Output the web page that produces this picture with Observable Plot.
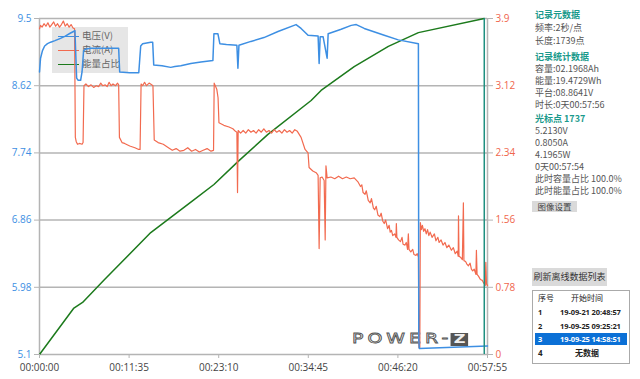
<!DOCTYPE html>
<html><head><meta charset="utf-8">
<script src="https://cdn.jsdelivr.net/npm/d3@7"></script>
<script src="https://cdn.jsdelivr.net/npm/@observablehq/plot@0.6"></script>
<style>
body{margin:0;background:#fff;font-family:"Open Sans","Noto Sans CJK SC",sans-serif;}
#wrap{position:relative;width:640px;height:379px;overflow:hidden;background:#fff;}
#chart{position:absolute;left:0;top:0;z-index:1;}
#legend{position:absolute;left:52px;top:27px;width:76px;height:46px;background:#e6e6e6;z-index:0;}
.lg{position:absolute;left:6px;height:12px;font-size:9.5px;line-height:12px;color:#666;white-space:nowrap;font-family:"Noto Sans CJK SC",sans-serif;}
.lg i{display:inline-block;width:21px;height:0;border-top:1.5px solid;vertical-align:middle;margin-right:3px;}
.pl{position:absolute;left:535px;font-size:9px;line-height:11px;height:11px;color:#555;white-space:nowrap;font-family:"Noto Sans CJK SC",sans-serif;}
.hd{color:#1a9a8c;font-weight:bold;}
.btn{position:absolute;background:#dadada;color:#444;font-size:8.5px;text-align:center;white-space:nowrap;font-family:"Noto Sans CJK SC",sans-serif;}
#tbl{position:absolute;left:532px;top:290px;width:96px;height:72px;border:1px solid #aaa;background:#fff;font-family:"Open Sans","Noto Sans CJK SC",sans-serif;font-size:7.5px;color:#222;}
.row{position:absolute;left:2px;width:92px;height:12px;line-height:12px;white-space:nowrap;}
.row .n{position:absolute;left:3px;font-weight:bold;}
.row .d{position:absolute;left:25px;font-weight:bold;letter-spacing:-0.1px;}
#wm{position:absolute;left:352px;top:330px;z-index:0;font-family:"DejaVu Sans",sans-serif;font-size:14px;line-height:16px;letter-spacing:3px;color:#fff;-webkit-text-stroke:0.8px #555;white-space:nowrap;transform:scaleX(1.35);transform-origin:left center;}
#wm b{display:inline-block;background:#555;color:#eee;-webkit-text-stroke:0;letter-spacing:0;padding:0 2px;font-size:12px;line-height:13px;margin-left:-1px;}
</style></head>
<body>
<div id="wrap">
  <div id="legend">
    <div class="lg" style="top:2px"><i style="border-color:#3d8fe3"></i>电压(V)</div>
    <div class="lg" style="top:16px"><i style="border-color:#f26a4f"></i>电流(A)</div>
    <div class="lg" style="top:30px"><i style="border-color:#1c7a1c"></i>能量占比</div>
  </div>
  <div id="wm">POWER-<b>Z</b></div>
  <div id="chart"></div>
  <div class="pl hd" style="top:9px">记录元数据</div>
  <div class="pl" style="top:22px">频率:2秒/点</div>
  <div class="pl" style="top:35px">长度:1739点</div>
  <div class="pl hd" style="top:51px">记录统计数据</div>
  <div class="pl" style="top:63px">容量:02.1968Ah</div>
  <div class="pl" style="top:75px">能量:19.4729Wh</div>
  <div class="pl" style="top:87px">平台:08.8641V</div>
  <div class="pl" style="top:99px">时长:0天00:57:56</div>
  <div class="pl hd" style="top:113px">光标点 1737</div>
  <div class="pl" style="top:125px">5.2130V</div>
  <div class="pl" style="top:137px">0.8050A</div>
  <div class="pl" style="top:149px">4.1965W</div>
  <div class="pl" style="top:161px">0天00:57:54</div>
  <div class="pl" style="top:173px">此时容量占比 100.0%</div>
  <div class="pl" style="top:185px">此时能量占比 100.0%</div>
  <div class="btn" style="left:532px;top:201px;width:45px;height:11px;line-height:11px;">图像设置</div>
  <div class="btn" style="left:532px;top:268px;width:75px;height:18px;line-height:18px;font-size:9px;color:#333">刷新离线数据列表</div>
  <div id="tbl">
    <div class="row" style="top:1px;font-size:8px"><span class="n" style="font-weight:normal">序号</span><span style="position:absolute;left:36px">开始时间</span></div>
    <div class="row" style="top:15px"><span class="n">1</span><span class="d">19-09-21 20:48:57</span></div>
    <div class="row" style="top:29px"><span class="n">2</span><span class="d">19-09-25 09:25:21</span></div>
    <div class="row" style="top:42px;background:#0b70d6;color:#fff"><span class="n">3</span><span class="d">19-09-25 14:58:51</span></div>
    <div class="row" style="top:56px;font-size:8px"><span class="n">4</span><span style="position:absolute;left:40px;font-weight:bold">无数据</span></div>
  </div>
</div>
<script>
// axis ticks
const leftTicks = [9.5, 8.62, 7.74, 6.86, 5.98, 5.1];
const rightTickLabels = ["3.9", "3.12", "2.34", "1.56", "0.78", "0"];
const xTickSec = [0, 695, 1390, 2085, 2780, 3475];
const xTickLabels = ["00:00:00", "00:11:35", "00:23:10", "00:34:45", "00:46:20", "00:57:55"];
const cursorSec = [3450];

// voltage (V) series
const voltT = [0,8,23,40,62,86,120,163,200,241,264,275,282,288,300,319,330,342,358,400,500,560,614,622,700,770,785,800,863,878,886,950,1018,1050,1096,1174,1252,1345,1353,1384,1399,1450,1531,1539,1547,1640,1741,1850,1990,2029,2083,2161,2169,2177,2200,2231,2239,2340,2418,2457,2519,2674,2783,2939,2942,2946,3475];
const voltV = [8.80,8.98,9.08,9.14,9.17,9.19,9.21,9.24,9.27,9.31,9.33,9.34,9.00,8.72,8.69,8.69,8.80,9.08,9.10,9.11,9.11,9.11,9.11,8.80,8.79,8.79,9.14,9.17,9.19,9.19,8.89,8.88,8.86,8.87,8.88,8.91,8.93,8.95,9.30,9.30,9.17,9.16,9.15,8.85,9.15,9.20,9.25,9.33,9.42,9.37,9.28,9.27,8.91,9.26,9.26,8.98,9.30,9.36,9.41,9.42,9.37,9.28,9.22,9.17,5.30,5.18,5.21];

// current (A) series
const currT = [0,8,20,35,50,65,80,95,110,125,140,155,170,185,200,215,230,245,260,272,278,285,295,310,330,338,345,360,380,400,420,440,460,475,490,510,525,540,555,570,590,605,614,620,640,660,700,740,770,780,788,800,815,830,850,870,880,890,920,960,1000,1030,1060,1090,1120,1150,1180,1210,1240,1270,1300,1330,1350,1355,1375,1385,1392,1430,1470,1500,1520,1531,1536,1541,1560,1580,1600,1620,1640,1660,1680,1700,1720,1740,1760,1780,1800,1820,1840,1860,1880,1900,1920,1940,1960,1980,2000,2029,2060,2083,2091,2120,2146,2161,2169,2177,2192,2208,2216,2222,2231,2260,2290,2320,2350,2380,2410,2441,2472,2490,2500,2510,2525,2535,2550,2565,2575,2590,2600,2612,2625,2640,2650,2662,2674,2685,2700,2712,2720,2730,2740,2755,2765,2768,2772,2785,2800,2812,2820,2835,2845,2855,2861,2866,2880,2895,2905,2920,2930,2939,2943,2950,2954,2962,2970,2980,2990,3000,3010,3020,3030,3045,3063,3075,3090,3100,3115,3130,3145,3160,3175,3195,3210,3225,3240,3248,3250,3254,3265,3280,3288,3292,3305,3315,3327,3340,3350,3360,3372,3385,3389,3394,3405,3420,3435,3445,3452,3458,3462,3467,3475];
const currA = [3.78,3.82,3.80,3.84,3.81,3.85,3.80,3.83,3.86,3.81,3.84,3.80,3.83,3.87,3.81,3.84,3.80,3.83,3.79,3.78,2.52,2.47,2.44,2.45,2.44,2.46,3.12,3.14,3.11,3.13,3.10,3.12,3.11,3.15,3.12,3.13,3.11,3.16,3.12,3.14,3.12,3.15,3.13,2.52,2.46,2.45,2.42,2.40,2.38,2.38,3.14,3.12,3.16,3.12,3.15,3.13,3.12,2.49,2.46,2.44,2.40,2.37,2.39,2.36,2.37,2.40,2.36,2.38,2.35,2.37,2.39,2.36,2.37,3.15,3.08,2.98,2.69,2.66,2.64,2.62,2.59,2.58,1.88,2.60,2.57,2.60,2.57,2.61,2.58,2.60,2.57,2.61,2.58,2.62,2.58,2.60,2.57,2.61,2.58,2.60,2.57,2.61,2.58,2.60,2.57,2.61,2.59,2.52,2.38,2.34,2.17,2.13,2.11,2.08,1.23,2.05,2.06,2.02,1.33,2.19,2.05,2.06,2.04,2.07,2.04,2.06,2.04,2.05,2.00,1.95,1.97,1.88,1.86,1.90,1.79,1.76,1.81,1.70,1.68,1.72,1.62,1.60,1.64,1.55,1.52,1.56,1.46,1.50,1.42,1.44,1.38,1.40,1.36,1.52,1.36,1.33,1.31,1.36,1.28,1.27,1.30,1.22,1.40,1.22,1.19,1.22,1.16,1.15,1.17,1.13,0.08,0.08,1.53,1.45,1.50,1.43,1.46,1.40,1.45,1.38,1.42,1.36,1.40,1.32,1.36,1.30,1.33,1.27,1.30,1.24,1.27,1.21,1.24,1.17,1.20,1.14,1.61,1.14,1.13,1.10,1.76,1.09,1.08,1.05,1.03,1.06,0.99,0.97,0.99,0.93,1.21,0.93,0.91,0.87,0.86,0.83,0.82,0.80,1.07,0.82,0.80];

// energy share (%) series
const energyT = [0,264,334,497,863,1197,1353,1539,1772,2107,2184,2441,2706,2939,3450];
const energyP = [0,13.7,15.5,22,36.3,46,50.6,57.4,65.5,75.6,78.6,85.7,91.7,95.8,100];

const vMin = 5.1, vMax = 9.5, aMax = 3.9;
const volt = voltT.map((t,i)=>({t, v: voltV[i]}));
const curr = currT.map((t,i)=>({t, a: currA[i]}));
const energy = energyT.map((t,i)=>({t, p: energyP[i]}));

const grid = "#b4b4b4";
const plot = Plot.plot({
  width: 640, height: 379,
  marginLeft: 39, marginRight: 153, marginTop: 18, marginBottom: 25,
  style: {background: "transparent", fontSize: "10px", fontFamily: "'Open Sans', 'Noto Sans', sans-serif"},
  x: {domain: [0, 3475], label: null},
  y: {domain: [vMin, vMax], label: null},
  marks: [
    Plot.ruleY(leftTicks, {stroke: grid, strokeWidth: 1.5}),
    Plot.ruleX([0, 3475], {stroke: grid, strokeWidth: 1.5}),
    Plot.line(energy, {x: "t", y: d => vMin + d.p / 100 * (vMax - vMin), stroke: "#1c7a1c", strokeWidth: 1.5}),
    Plot.line(curr, {x: "t", y: d => vMin + d.a / aMax * (vMax - vMin), stroke: "#f26a4f", strokeWidth: 1.2}),
    Plot.line(volt, {x: "t", y: "v", stroke: "#3d8fe3", strokeWidth: 1.5}),
    Plot.ruleX(cursorSec, {stroke: "#1f8f80", strokeWidth: 1.5}),
    Plot.axisY(leftTicks, {anchor: "left", label: null, tickSize: 5, tickPadding: 3, stroke: grid, fill: "#3d8fe3", tickFormat: d => String(d)}),
    Plot.axisY(leftTicks, {anchor: "right", label: null, tickSize: 5, tickPadding: 3, stroke: grid, fill: "#f0664d", tickFormat: d => rightTickLabels[leftTicks.indexOf(d)]}),
    Plot.axisX(xTickSec, {anchor: "bottom", label: null, tickSize: 4, tickPadding: 5, stroke: grid, fill: "#444", tickFormat: d => xTickLabels[xTickSec.indexOf(d)]})
  ]
});
document.getElementById("chart").appendChild(plot);
</script>
</body></html>
